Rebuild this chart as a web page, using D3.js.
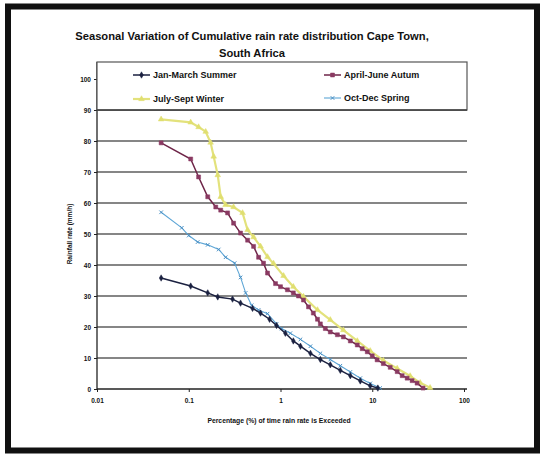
<!DOCTYPE html>
<html>
<head>
<meta charset="utf-8">
<script src="https://cdn.jsdelivr.net/npm/d3@7"></script>
<style>
  html, body { margin: 0; padding: 0; background: #fff; }
  svg { display: block; }
  text { font-family: "Liberation Sans", Arial, sans-serif; font-weight: bold; fill: #111; }
</style>
</head>
<body>
<svg id="chart" width="540" height="454"></svg>
<script>
// ---- Data (percentage of time exceeded, rain rate mm/h) ----
const seriesNames = ["Jan-March Summer", "April-June Autum", "July-Sept Winter", "Oct-Dec Spring"];

const summerP = [0.05, 0.105, 0.161, 0.207, 0.30, 0.367, 0.496, 0.606, 0.76, 0.905, 1.13, 1.38, 1.65, 2.12, 2.72, 3.49, 4.49, 5.77, 7.41, 9.51, 11.5];
const summerR = [35.8, 33.2, 31, 29.7, 29, 27.7, 26, 24.5, 22.5, 20.5, 18, 15.5, 13.8, 11.5, 9.5, 7.8, 6, 4.3, 2.6, 1.0, 0.3];

const autumnP = [0.05, 0.105, 0.128, 0.161, 0.197, 0.223, 0.265, 0.308, 0.367, 0.438, 0.509, 0.577, 0.653, 0.722, 0.883, 1.0, 1.19, 1.38, 1.57, 1.78, 2.02, 2.28, 2.53, 2.72, 3.08, 3.49, 4.17, 4.84, 5.77, 6.87, 7.78, 8.83, 10.0, 11.3, 13.2, 15.7, 18.7, 21.2, 24.0, 27.2, 30.8, 35.8];
const autumnR = [79.4, 74.2, 68.4, 62, 58.7, 57.7, 56.8, 53.5, 50.3, 48, 46, 42.5, 40.6, 37.4, 34, 33, 32, 31, 30, 28.7, 26.5, 24.5, 22.5, 21, 19.5, 18.4, 17.5, 16.8, 15.5, 14.2, 13, 12, 10.7, 9.4, 8.2, 7.0, 5.6, 4.3, 3.5, 2.7, 1.9, 0.3];

const winterP = [0.05, 0.105, 0.128, 0.153, 0.173, 0.187, 0.207, 0.223, 0.252, 0.308, 0.386, 0.438, 0.509, 0.606, 0.722, 0.839, 1.08, 1.38, 1.78, 2.53, 3.49, 4.84, 6.87, 9.51, 13.2, 18.7, 25.9, 33.3, 42.7];
const winterR = [87, 86, 84.5, 83, 79.5, 75, 69, 62, 59.4, 58.7, 56.8, 51.3, 49, 46, 42.6, 40.5, 36.5, 33, 29.8, 25.5, 22.3, 19, 15.5, 12.3, 9.2, 6.6, 4.2, 2, 0.4];

const springP = [0.05, 0.084, 0.1, 0.125, 0.161, 0.212, 0.252, 0.316, 0.367, 0.417, 0.484, 0.577, 0.722, 0.905, 1.03, 1.28, 1.65, 2.12, 2.72, 3.49, 4.49, 5.77, 7.41, 9.51, 12.2];
const springR = [57, 52, 49.5, 47.4, 46.5, 45, 42.5, 40.6, 36, 31, 27, 25.5, 24.3, 21, 19.5, 18, 16, 13.8, 11.5, 9.5, 7.5, 5.5, 3.5, 1.8, 0.3];

const xTickValues = [0.01, 0.1, 1, 10, 100];
const xTickLabels = ["0.01", "0.1", "1", "10", "100"];
const yTickValues = [0, 10, 20, 30, 40, 50, 60, 70, 80, 90, 100];

const titleLines = ["Seasonal Variation of Cumulative rain rate distribution  Cape Town,", "South Africa"];
const xTitle = "Percentage (%) of time rain rate is Exceeded";
const yTitle = "Rainfall rate (mm/h)";

// ---- Drawing ----
const svg = d3.select("#chart");
const W = 540, H = 454;
const plot = { left: 97, right: 464, top: 79, bottom: 389 };

const x = d3.scaleLog().domain([0.01, 100]).range([plot.left, plot.right]);
const y = d3.scaleLinear().domain([0, 100]).range([plot.bottom, plot.top]);

// outer frame
svg.append("rect").attr("x", 0).attr("y", 0).attr("width", W).attr("height", H).attr("fill", "#fff");
svg.append("rect").attr("x", 8).attr("y", 6.5).attr("width", 529).attr("height", 444)
  .attr("fill", "none").attr("stroke", "#111").attr("stroke-width", 6);

// title
svg.selectAll(".title").data(titleLines).join("text")
  .attr("class", "title")
  .attr("x", 252).attr("y", (d, i) => 40 + i * 17)
  .attr("text-anchor", "middle").attr("font-size", 11.2)
  .text(d => d);

// gridlines
svg.append("g").selectAll("line").data(yTickValues.filter(v => v > 0)).join("line")
  .attr("x1", plot.left).attr("x2", plot.right + 3)
  .attr("y1", d => y(d)).attr("y2", d => y(d))
  .attr("stroke", "#5e5e5e").attr("stroke-width", 1.3);

// axes
const yAxis = d3.axisLeft(y).tickValues(yTickValues).tickSize(3).tickFormat(d3.format("d"));
const gy = svg.append("g").attr("transform", `translate(${plot.left},0)`).call(yAxis);
gy.select(".domain").remove();
gy.selectAll("text").attr("font-size", 6.5).attr("x", -6);
gy.selectAll("line").attr("stroke", "#222");

const xAxis = d3.axisBottom(x).tickValues(xTickValues).tickSize(3)
  .tickFormat((d, i) => xTickLabels[i]);
const gx = svg.append("g").attr("transform", `translate(0,${plot.bottom})`).call(xAxis);
gx.select(".domain").remove();
gx.selectAll("text").attr("font-size", 6.5).attr("dy", "1.2em");
gx.selectAll("line").attr("stroke", "#222");

// axis lines
svg.append("line").attr("x1", plot.left).attr("x2", plot.left).attr("y1", 62).attr("y2", plot.bottom)
  .attr("stroke", "#222").attr("stroke-width", 1.3);
svg.append("line").attr("x1", plot.left).attr("x2", plot.right + 3).attr("y1", plot.bottom).attr("y2", plot.bottom)
  .attr("stroke", "#222").attr("stroke-width", 1.5);

// axis titles
svg.append("text").attr("x", 279).attr("y", 423).attr("text-anchor", "middle")
  .attr("font-size", 6.8).text(xTitle);
svg.append("text").attr("transform", "translate(72,234) rotate(-90)").attr("text-anchor", "middle")
  .attr("font-size", 6.5).text(yTitle);

// series
const series = [
  { name: seriesNames[0], p: summerP, r: summerR, color: "#1b2140", width: 1.5, marker: "diamond", mcolor: "#1b2140", msize: 12 },
  { name: seriesNames[1], p: autumnP, r: autumnR, color: "#6e2548", width: 1.5, marker: "square", mcolor: "#8a3a62", msize: 16 },
  { name: seriesNames[2], p: winterP, r: winterR, color: "#e3e27c", width: 2.2, marker: "triangle", mcolor: "#e0df70", msize: 14 },
  { name: seriesNames[3], p: springP, r: springR, color: "#5ea6d6", width: 1.1, marker: "cross", mcolor: "#4a90c4", msize: 10 }
];
const symbolFor = m => ({ diamond: d3.symbolDiamond, square: d3.symbolSquare, triangle: d3.symbolTriangle, cross: d3.symbolX }[m]);

const line = d3.line().x(d => x(d[0])).y(d => y(d[1]));
const drawOrder = [2, 1, 3, 0];
drawOrder.forEach(i => {
  const s = series[i];
  const pts = s.p.map((p, k) => [p, s.r[k]]);
  svg.append("path").datum(pts).attr("d", line)
    .attr("fill", "none").attr("stroke", s.color).attr("stroke-width", s.width);
  const sym = d3.symbol().type(symbolFor(s.marker)).size(s.msize);
  svg.append("g").selectAll("path").data(pts).join("path")
    .attr("d", sym)
    .attr("transform", d => `translate(${x(d[0])},${y(d[1])})`)
    .attr("fill", s.marker === "cross" ? "none" : s.mcolor)
    .attr("stroke", s.mcolor).attr("stroke-width", s.marker === "cross" ? 1 : 0.5);
});

// legend box
svg.append("rect").attr("x", plot.left).attr("y", 62).attr("width", plot.right + 3 - plot.left).attr("height", 48)
  .attr("fill", "#fff").attr("stroke", "#555").attr("stroke-width", 1.2);
svg.append("line").attr("x1", plot.left).attr("x2", plot.right + 3).attr("y1", 110).attr("y2", 110)
  .attr("stroke", "#444").attr("stroke-width", 1.6);

const legendPos = [
  { x: 133, y: 75 }, { x: 324, y: 75 }, { x: 133, y: 99 }, { x: 324, y: 98 }
];
series.forEach((s, i) => {
  const g = svg.append("g").attr("transform", `translate(${legendPos[i].x},${legendPos[i].y})`);
  g.append("line").attr("x1", 0).attr("x2", 17).attr("y1", 0).attr("y2", 0)
    .attr("stroke", s.color).attr("stroke-width", s.width);
  g.append("path").attr("d", d3.symbol().type(symbolFor(s.marker)).size(s.msize)())
    .attr("transform", "translate(8.5,0)")
    .attr("fill", s.marker === "cross" ? "none" : s.mcolor)
    .attr("stroke", s.mcolor).attr("stroke-width", s.marker === "cross" ? 1 : 0.5);
  g.append("text").attr("x", 20).attr("y", 3.2).attr("font-size", 9).text(s.name);
});
</script>
</body>
</html>
